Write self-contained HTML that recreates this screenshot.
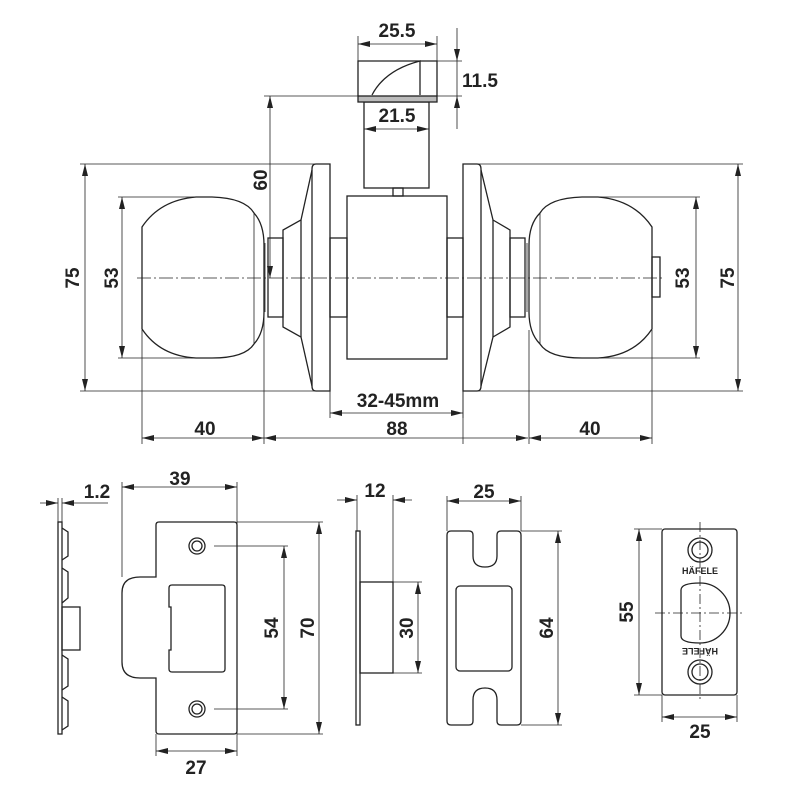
<!DOCTYPE html>
<html><head><meta charset="utf-8"><style>
html,body{margin:0;padding:0;background:#fff}
svg{display:block}
text{font-family:"Liberation Sans",sans-serif;font-weight:bold;font-size:19px;fill:#222}
</style></head><body>
<svg width="800" height="800" viewBox="0 0 800 800" xmlns="http://www.w3.org/2000/svg">
<defs>
<marker id="a" viewBox="0 0 12 6" refX="12" refY="3" markerWidth="12" markerHeight="6" orient="auto-start-reverse" markerUnits="userSpaceOnUse"><path d="M0,0L12,3L0,6z" fill="#222"/></marker>
</defs>
<g fill="none" stroke="#222" stroke-width="1.3">
<line x1="137" y1="278" x2="662" y2="278" stroke-width="0.8" stroke-dasharray="14,3,2,3"/>
<path d="M316,164 H330 V391 H316 Q312,391 312,386 V169 Q312,164 316,164Z"/>
<path d="M312,170 L301,220 L283,230 V327 L301,337 L312,386"/>
<line x1="301" y1="220" x2="301" y2="337"/>
<rect x="268" y="238" width="15" height="79"/>
<line x1="265" y1="243" x2="265" y2="312" stroke-width="0.8"/>
<path d="M142,227 Q160,200 196,197 L212,197 Q245,198 254,213 Q264,224 264,245 V312 Q264,333 254,344 Q245,358 212,358 L196,358 Q160,356 142,329 Z"/>
<line x1="254" y1="213" x2="254" y2="344" stroke-width="0.8"/>
<rect x="330" y="238" width="17" height="79"/>
<rect x="447" y="238" width="16" height="79"/>
<rect x="347" y="196" width="100" height="163"/>
<rect x="364" y="102" width="65" height="86"/>
<rect x="393" y="188" width="10" height="8"/>
<rect x="358" y="96" width="79" height="6" fill="#bbb"/>
<path d="M358,96 V61 H437 V96"/>
<path d="M372,95 Q385,70 420,61 V95"/>
<path d="M463,164 H477 Q481,164 481,169 V386 Q481,391 477,391 H463Z"/>
<path d="M481,170 L493,220 L510,230 V327 L493,337 L481,386"/>
<line x1="493" y1="220" x2="493" y2="337"/>
<rect x="510" y="238" width="15" height="79"/>
<line x1="527" y1="243" x2="527" y2="312" stroke-width="0.8"/>
<path d="M652,227 Q634,200 598,197 L582,197 Q549,198 540,213 Q529,224 529,245 V312 Q529,333 540,344 Q549,358 582,358 L598,358 Q634,356 652,329 Z"/>
<line x1="540" y1="213" x2="540" y2="344" stroke-width="0.8"/>
<rect x="652" y="257" width="8" height="40"/>
</g>
<g stroke="#222" stroke-width="0.8" fill="none">
<line x1="80" y1="164" x2="316" y2="164"/><line x1="80" y1="391" x2="316" y2="391"/>
<line x1="85" y1="164" x2="85" y2="391" marker-start="url(#a)" marker-end="url(#a)"/>
<line x1="118" y1="197" x2="200" y2="197"/><line x1="118" y1="358" x2="200" y2="358"/>
<line x1="122" y1="197" x2="122" y2="358" marker-start="url(#a)" marker-end="url(#a)"/>
<line x1="142" y1="330" x2="142" y2="444"/><line x1="264" y1="312" x2="264" y2="444"/>
<line x1="142" y1="438" x2="264" y2="438" marker-start="url(#a)" marker-end="url(#a)"/>
<line x1="264" y1="438" x2="528" y2="438" marker-start="url(#a)" marker-end="url(#a)"/>
<line x1="330" y1="391" x2="330" y2="418"/><line x1="463" y1="391" x2="463" y2="418"/>
<line x1="330" y1="413" x2="463" y2="413" marker-start="url(#a)" marker-end="url(#a)"/>
<line x1="264" y1="96" x2="462" y2="96"/>
<line x1="270" y1="96" x2="270" y2="278" marker-start="url(#a)" marker-end="url(#a)"/>
<line x1="358" y1="36" x2="358" y2="96"/><line x1="437" y1="36" x2="437" y2="61"/>
<line x1="358" y1="44" x2="437" y2="44" marker-start="url(#a)" marker-end="url(#a)"/>
<line x1="364" y1="129" x2="429" y2="129" marker-start="url(#a)" marker-end="url(#a)"/>
<line x1="420" y1="61" x2="462" y2="61"/>
<line x1="457" y1="28" x2="457" y2="61" marker-end="url(#a)"/>
<line x1="457" y1="129" x2="457" y2="96" marker-end="url(#a)"/>
<line x1="457" y1="61" x2="457" y2="96"/>
<line x1="477" y1="164" x2="743" y2="164"/><line x1="477" y1="391" x2="743" y2="391"/>
<line x1="738" y1="164" x2="738" y2="391" marker-start="url(#a)" marker-end="url(#a)"/>
<line x1="598" y1="197" x2="700" y2="197"/><line x1="598" y1="358" x2="700" y2="358"/>
<line x1="696" y1="197" x2="696" y2="358" marker-start="url(#a)" marker-end="url(#a)"/>
<line x1="529" y1="330" x2="529" y2="444"/><line x1="652" y1="330" x2="652" y2="444"/>
<line x1="529" y1="438" x2="652" y2="438" marker-start="url(#a)" marker-end="url(#a)"/>
<line x1="463" y1="391" x2="463" y2="444"/>
</g>
<text x="397" y="37" text-anchor="middle">25.5</text>
<text x="397" y="122" text-anchor="middle">21.5</text>
<text x="462" y="87">11.5</text>
<text x="398" y="407" text-anchor="middle">32-45mm</text>
<text x="397" y="435" text-anchor="middle">88</text>
<text x="205" y="435" text-anchor="middle">40</text>
<text x="590" y="435" text-anchor="middle">40</text>
<text transform="translate(79,278) rotate(-90)" text-anchor="middle">75</text>
<text transform="translate(118,278) rotate(-90)" text-anchor="middle">53</text>
<text transform="translate(267,180) rotate(-90)" text-anchor="middle">60</text>
<text transform="translate(689,278) rotate(-90)" text-anchor="middle">53</text>
<text transform="translate(734,278) rotate(-90)" text-anchor="middle">75</text>

<g fill="none" stroke="#222" stroke-width="1.3">
<rect x="58" y="522" width="4" height="212"/>
<path d="M62,528 L68,532 V556 L62,560 M62,568 L68,572 V598 L62,603 M62,655 L68,659 V686 L62,690 M62,697 L68,701 V726 L62,730"/>
<rect x="62" y="607" width="18" height="43"/>
<path d="M159,522 H234 Q237,522 237,525 V731 Q237,734 234,734 H159 Q156,734 156,731 V678 H140 Q122,678 122,662 V593 Q122,577 140,577 H156 V525 Q156,522 159,522Z"/>
<path d="M172,585 H222 Q225,585 225,588 V669 Q225,672 222,672 H172 Q169,672 169,669 V650 H171 V607 H169 V588 Q169,585 172,585Z"/>
<circle cx="197" cy="546" r="8"/><circle cx="197" cy="546" r="5"/>
<circle cx="197" cy="709" r="8"/><circle cx="197" cy="709" r="5"/>
<rect x="356" y="531" width="4" height="194"/>
<rect x="360" y="582" width="33" height="91"/>
<path d="M451,531 H469 Q473,531 473,535 V556 Q473,567 485,567 Q497,567 497,556 V535 Q497,531 501,531 H517 Q521,531 521,535 V721 Q521,725 517,725 H501 Q497,725 497,721 V700 Q497,688 485,688 Q473,688 473,700 V721 Q473,725 469,725 H451 Q447,725 447,721 V535 Q447,531 451,531Z"/>
<rect x="456" y="586" width="56" height="85" rx="4"/>
<rect x="662" y="529" width="75" height="166" rx="3"/>
<circle cx="700" cy="550" r="12"/><circle cx="700" cy="550" r="8"/>
<circle cx="700" cy="672" r="12"/><circle cx="700" cy="672" r="8"/>
<path d="M681,590 Q681,583 700,583 A30,30 0 0 1 700,643 Q681,643 681,636 Z"/>
</g>
<g stroke="#222" stroke-width="0.8" fill="none">
<line x1="655" y1="613" x2="743" y2="613" stroke-dasharray="10,3,2,3"/>
<line x1="700" y1="522" x2="700" y2="702" stroke-dasharray="10,3,2,3"/>
<line x1="40" y1="503" x2="58" y2="503" marker-end="url(#a)"/>
<line x1="108" y1="503" x2="62" y2="503" marker-end="url(#a)"/>
<line x1="58" y1="498" x2="58" y2="522"/><line x1="62" y1="498" x2="62" y2="522"/>
<line x1="122" y1="482" x2="122" y2="577"/><line x1="237" y1="482" x2="237" y2="756"/>
<line x1="122" y1="487" x2="237" y2="487" marker-start="url(#a)" marker-end="url(#a)"/>
<line x1="156" y1="734" x2="156" y2="756"/>
<line x1="156" y1="751" x2="237" y2="751" marker-start="url(#a)" marker-end="url(#a)"/>
<line x1="214" y1="546" x2="288" y2="546"/><line x1="214" y1="709" x2="288" y2="709"/>
<line x1="284" y1="546" x2="284" y2="709" marker-start="url(#a)" marker-end="url(#a)"/>
<line x1="237" y1="522" x2="323" y2="522"/><line x1="237" y1="734" x2="323" y2="734"/>
<line x1="319" y1="522" x2="319" y2="734" marker-start="url(#a)" marker-end="url(#a)"/>
<line x1="337" y1="500" x2="357" y2="500" marker-end="url(#a)"/>
<line x1="412" y1="500" x2="393" y2="500" marker-end="url(#a)"/>
<line x1="357" y1="495" x2="357" y2="531"/><line x1="393" y1="495" x2="393" y2="582"/>
<line x1="393" y1="582" x2="422" y2="582"/><line x1="393" y1="673" x2="422" y2="673"/>
<line x1="418" y1="582" x2="418" y2="673" marker-start="url(#a)" marker-end="url(#a)"/>
<line x1="447" y1="496" x2="447" y2="531"/><line x1="521" y1="496" x2="521" y2="531"/>
<line x1="447" y1="501" x2="521" y2="501" marker-start="url(#a)" marker-end="url(#a)"/>
<line x1="521" y1="531" x2="562" y2="531"/><line x1="521" y1="725" x2="562" y2="725"/>
<line x1="558" y1="531" x2="558" y2="725" marker-start="url(#a)" marker-end="url(#a)"/>
<line x1="634" y1="529" x2="662" y2="529"/><line x1="634" y1="695" x2="662" y2="695"/>
<line x1="639" y1="529" x2="639" y2="695" marker-start="url(#a)" marker-end="url(#a)"/>
<line x1="662" y1="695" x2="662" y2="722"/><line x1="737" y1="695" x2="737" y2="722"/>
<line x1="662" y1="717" x2="737" y2="717" marker-start="url(#a)" marker-end="url(#a)"/>
</g>
<text x="97" y="498" text-anchor="middle">1.2</text>
<text x="180" y="485" text-anchor="middle">39</text>
<text x="196" y="774" text-anchor="middle">27</text>
<text transform="translate(278,628) rotate(-90)" text-anchor="middle">54</text>
<text transform="translate(314,628) rotate(-90)" text-anchor="middle">70</text>
<text x="375" y="497" text-anchor="middle">12</text>
<text transform="translate(413,628) rotate(-90)" text-anchor="middle">30</text>
<text x="484" y="498" text-anchor="middle">25</text>
<text transform="translate(553,628) rotate(-90)" text-anchor="middle">64</text>
<text transform="translate(633,612) rotate(-90)" text-anchor="middle">55</text>
<text x="700" y="738" text-anchor="middle">25</text>
<text x="700" y="574" text-anchor="middle" style="font-size:9px">HÄFELE</text>
<text transform="translate(700,648) rotate(180)" text-anchor="middle" style="font-size:9px">HÄFELE</text>
</svg>
</body></html>
